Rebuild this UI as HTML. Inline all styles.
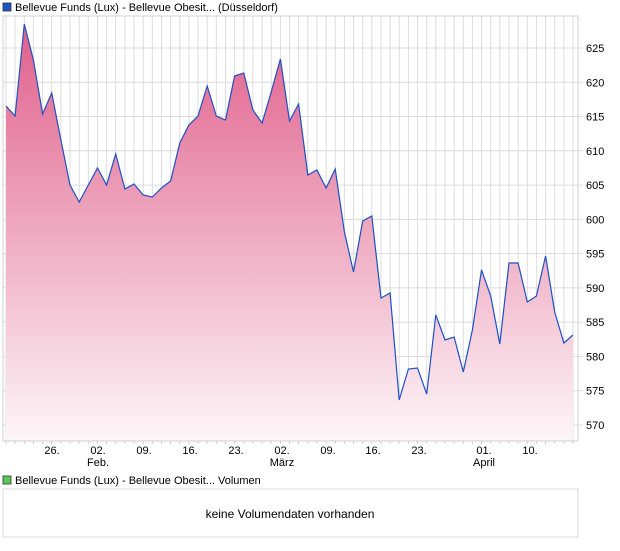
<!DOCTYPE html>
<html><head><meta charset="utf-8"><style>
body{margin:0;background:#fff;font-family:"Liberation Sans",Arial,sans-serif;}
svg text{font-family:"Liberation Sans",Arial,sans-serif;font-size:11px;fill:#000;}
</style></head><body>
<svg id="s" width="620" height="546" xmlns="http://www.w3.org/2000/svg">
<defs><linearGradient id="g" x1="0" y1="24" x2="0" y2="441" gradientUnits="userSpaceOnUse">
<stop offset="0" stop-color="#e05f8b"/><stop offset="1" stop-color="#fdf5f8"/></linearGradient></defs>
<rect x="3" y="3" width="8" height="8" fill="#1a56c4" stroke="#333" stroke-width="0.8"/>
<text x="15" y="11">Bellevue Funds (Lux) - Bellevue Obesit... (Düsseldorf)</text>
<g id="grid"></g>
<path id="area" fill="url(#g)"/>
<polyline id="line" fill="none" stroke="#1f4fc4" stroke-width="1.2"/>
<rect x="3" y="16" width="575" height="425" fill="none" stroke="#d0d0d0"/>
<g id="yl"></g>
<g text-anchor="middle">
<text x="52" y="454">26.</text><text x="98" y="454">02.</text><text x="98" y="466">Feb.</text>
<text x="144" y="454">09.</text><text x="190" y="454">16.</text><text x="236" y="454">23.</text>
<text x="282" y="454">02.</text><text x="282" y="466">März</text><text x="328" y="454">09.</text>
<text x="373" y="454">16.</text><text x="419" y="454">23.</text><text x="484" y="454">01.</text>
<text x="484" y="466">April</text><text x="530" y="454">10.</text>
</g>
<rect x="3" y="476" width="8" height="8" fill="#5cc85c" stroke="#333" stroke-width="0.8"/>
<text x="15" y="484">Bellevue Funds (Lux) - Bellevue Obesit... Volumen</text>
<rect x="3" y="489" width="575" height="48" fill="#fff" stroke="#d8d8d8"/>
<text x="290" y="518" text-anchor="middle" style="font-size:12px">keine Volumendaten vorhanden</text>
</svg>
<script>
var ys=[106,116,24,60,114,93,140,185,202,185,168,185,154,189,184,195,197,188,181,143,125,116,86,116,120,76,73,110,123,92,59,121,104,175,170,188,169,232,272,221,216,298,293,400,369,368,394,315,340,337,372,330,270,296,344,263,263,302,296,256,312,343,335];
var n=ys.length,x0=6,x1=573,dx=(x1-x0)/(n-1),pts=[];
for(var i=0;i<n;i++)pts.push((x0+i*dx).toFixed(1)+","+ys[i]);
document.getElementById('line').setAttribute('points',pts.join(' '));
document.getElementById('area').setAttribute('d','M'+x0+',441 L'+pts.join(' L')+' L'+x1+',441Z');
var g='';
for(var i=0;i<n;i++){var x=(x0+i*dx).toFixed(1);g+='<line x1="'+x+'" y1="16" x2="'+x+'" y2="441" stroke="#dcdcdc"/><line x1="'+x+'" y1="441" x2="'+x+'" y2="444" stroke="#ccc"/>';}
var yl='';
for(var v=570;v<=625;v+=5){var y=425-(v-570)*6.855;g+='<line x1="3" y1="'+y+'" x2="583" y2="'+y+'" stroke="#dcdcdc"/>';yl+='<text x="586" y="'+(y+4)+'">'+v+'</text>';}
document.getElementById('grid').innerHTML=g;document.getElementById('yl').innerHTML=yl;
</script>
</body></html>
